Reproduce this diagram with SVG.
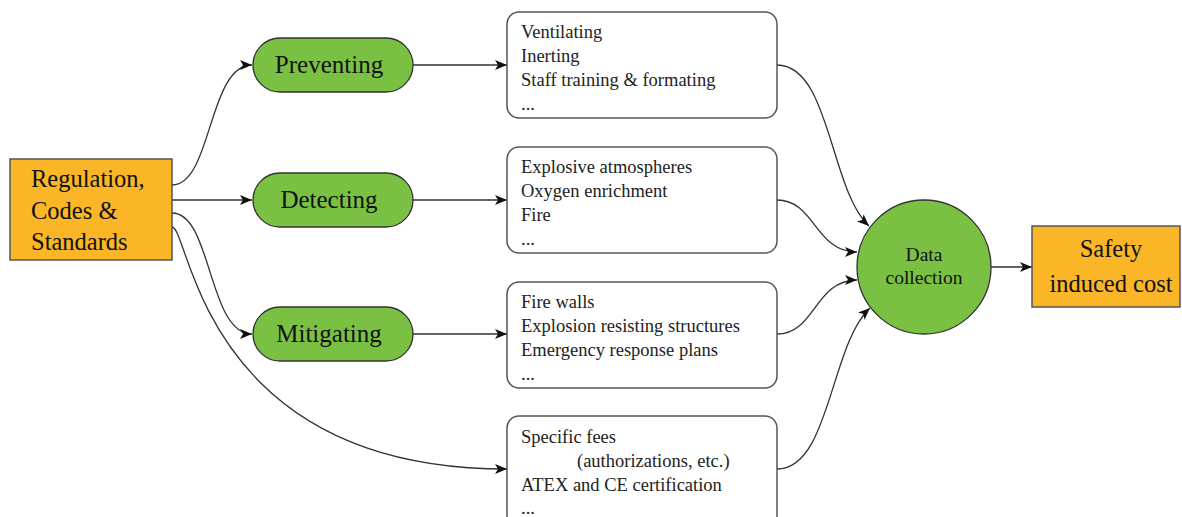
<svg xmlns="http://www.w3.org/2000/svg" width="1182" height="517" viewBox="0 0 1182 517">
  <defs>
    <marker id="arrow" viewBox="0 0 12 10" refX="12" refY="5" markerWidth="12" markerHeight="10" markerUnits="userSpaceOnUse" orient="auto">
      <path d="M0,0 L12,5 L0,10 L3,5 z" fill="#111"/>
    </marker>
    <style>
      .orange { fill: #fbb627; stroke: #555; stroke-width: 1.5; }
      .green { fill: #7ac143; stroke: #333; stroke-width: 1.3; }
      .box { fill: #fff; stroke: #555; stroke-width: 1.5; }
      .big { font-family: "Liberation Serif", serif; font-size: 24.5px; fill: #111; }
      .pill { font-family: "Liberation Serif", serif; font-size: 25px; fill: #111; text-anchor: middle; }
      .item { font-family: "Liberation Serif", serif; font-size: 18.5px; fill: #222; }
      .small { font-family: "Liberation Serif", serif; font-size: 19.5px; fill: #111; text-anchor: middle; }
      .edge { fill: none; stroke: #333; stroke-width: 1.3; marker-end: url(#arrow); }
    </style>
  </defs>
  <rect width="1182" height="517" fill="#fff"/>

  <g id="connectors">
    <path class="edge" d="M172,185 C212,185 208,65 252,65"/>
    <path class="edge" d="M172,200 L252,200"/>
    <path class="edge" d="M172,213 C212,213 208,334 252,334"/>
    <path class="edge" d="M172,227 C190,227 200,469 507,469"/>
    <path class="edge" d="M413,65 L507,65"/>
    <path class="edge" d="M413,200 L507,200"/>
    <path class="edge" d="M413,334 L507,334"/>
    <path class="edge" d="M777,65 C830,65 830,190 869,226"/>
    <path class="edge" d="M777,200 C815,200 815,252 857,252"/>
    <path class="edge" d="M777,334 C815,334 815,280 857,280"/>
    <path class="edge" d="M777,469 C830,469 830,345 870,308"/>
    <path class="edge" d="M991,267 L1032,267"/>
  </g>

  <g id="regulation">
    <rect class="orange" x="10" y="159" width="162" height="101"/>
    <text class="big" x="31" y="187">Regulation,</text>
    <text class="big" x="31" y="219">Codes &amp;</text>
    <text class="big" x="31" y="250">Standards</text>
  </g>

  <g id="preventing">
    <rect class="green" x="253" y="38" width="160" height="54" rx="27"/>
    <text class="pill" x="329" y="73">Preventing</text>
  </g>
  <g id="detecting">
    <rect class="green" x="253" y="173" width="160" height="54" rx="27"/>
    <text class="pill" x="329" y="208">Detecting</text>
  </g>
  <g id="mitigating">
    <rect class="green" x="253" y="307" width="160" height="54" rx="27"/>
    <text class="pill" x="329" y="342">Mitigating</text>
  </g>

  <g id="prevention-measures">
    <rect class="box" x="507" y="12" width="270" height="106" rx="12"/>
    <text class="item" x="521" y="38">Ventilating</text>
    <text class="item" x="521" y="62">Inerting</text>
    <text class="item" x="521" y="86">Staff training &amp; formating</text>
    <text class="item" x="521" y="110">...</text>
  </g>
  <g id="detection-measures">
    <rect class="box" x="507" y="147" width="270" height="106" rx="12"/>
    <text class="item" x="521" y="173">Explosive atmospheres</text>
    <text class="item" x="521" y="197">Oxygen enrichment</text>
    <text class="item" x="521" y="221">Fire</text>
    <text class="item" x="521" y="245">...</text>
  </g>
  <g id="mitigation-measures">
    <rect class="box" x="507" y="282" width="270" height="106" rx="12"/>
    <text class="item" x="521" y="308">Fire walls</text>
    <text class="item" x="521" y="332">Explosion resisting structures</text>
    <text class="item" x="521" y="356">Emergency response plans</text>
    <text class="item" x="521" y="380">...</text>
  </g>
  <g id="regulatory-fees">
    <rect class="box" x="507" y="416" width="270" height="112" rx="12"/>
    <text class="item" x="521" y="443">Specific fees</text>
    <text class="item" x="577" y="467">(authorizations, etc.)</text>
    <text class="item" x="521" y="491">ATEX and CE certification</text>
    <text class="item" x="521" y="514">...</text>
  </g>

  <g id="data-collection">
    <circle class="green" cx="924" cy="267" r="67"/>
    <text class="small" x="924" y="261">Data</text>
    <text class="small" x="924" y="284">collection</text>
  </g>

  <g id="safety-cost">
    <rect class="orange" x="1032" y="226" width="148" height="81"/>
    <text class="big" x="1111" y="257" text-anchor="middle">Safety</text>
    <text class="big" x="1111" y="292" text-anchor="middle">induced cost</text>
  </g>
</svg>
